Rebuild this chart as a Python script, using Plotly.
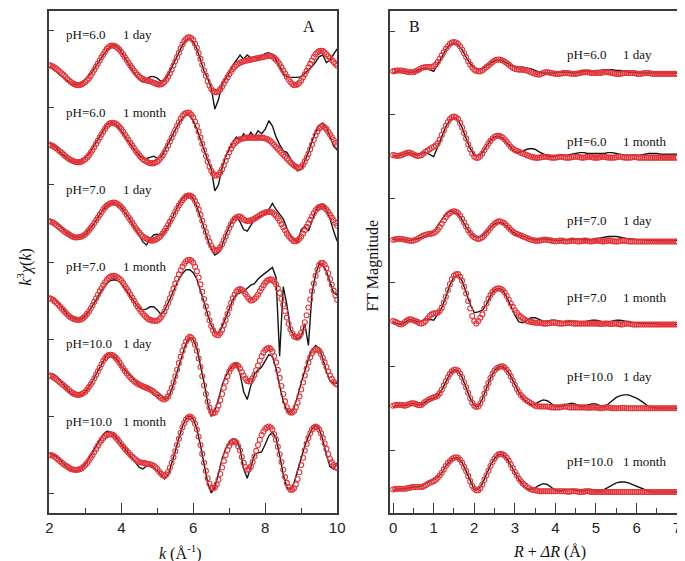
import plotly.graph_objects as go

W, H = 685, 561

# ---------------- data ----------------
k = [round(2 + 0.1 * i, 1) for i in range(81)]          # data lines
k_fit = [round(2 + 0.05 * i, 2) for i in range(161)]    # fit circles
R = [round(0.1 * i, 1) for i in range(71)]
R_fit = [round(0.05 * i, 2) for i in range(141)]

labels = [("pH=6.0", "1 day"), ("pH=6.0", "1 month"), ("pH=7.0", "1 day"),
          ("pH=7.0", "1 month"), ("pH=10.0", "1 day"), ("pH=10.0", "1 month")]

# Panel A fits: k^3 chi(k), offsets relative to each spectrum's baseline (every 0.05)
chi_fit_6_day = [0.05, 0.04, 0.03, 0.015, 0.00, -0.02, -0.04, -0.06, -0.08, -0.105,
                 -0.13, -0.15, -0.17, -0.187, -0.20, -0.207, -0.21, -0.207, -0.20, -0.187,
                 -0.17, -0.147, -0.12, -0.087, -0.05, -0.01, 0.03, 0.07, 0.11, 0.15,
                 0.19, 0.227, 0.26, 0.283, 0.30, 0.303, 0.30, 0.288, 0.27, 0.247,
                 0.22, 0.187, 0.15, 0.115, 0.08, 0.045, 0.01, -0.022, -0.05, -0.077,
                 -0.10, -0.117, -0.13, -0.14, -0.15, -0.155, -0.16, -0.17, -0.18, -0.19,
                 -0.20, -0.203, -0.20, -0.19, -0.17, -0.137, -0.10, -0.057, -0.01, 0.045,
                 0.10, 0.155, 0.21, 0.267, 0.32, 0.36, 0.39, 0.405, 0.41, 0.397,
                 0.37, 0.325, 0.27, 0.203, 0.13, 0.055, -0.02, -0.09, -0.16, -0.215,
                 -0.26, -0.285, -0.30, -0.30, -0.29, -0.265, -0.23, -0.19, -0.15, -0.11,
                 -0.07, -0.033, 0.00, 0.027, 0.05, 0.066, 0.08, 0.09, 0.10, 0.105,
                 0.11, 0.115, 0.12, 0.125, 0.13, 0.135, 0.14, 0.145, 0.15, 0.155,
                 0.16, 0.166, 0.17, 0.168, 0.16, 0.143, 0.12, 0.092, 0.06, 0.02,
                 -0.02, -0.06, -0.10, -0.137, -0.17, -0.195, -0.21, -0.208, -0.20, -0.18,
                 -0.15, -0.112, -0.07, -0.025, 0.02, 0.065, 0.11, 0.153, 0.19, 0.215,
                 0.23, 0.235, 0.23, 0.213, 0.19, 0.165, 0.14, 0.115, 0.09, 0.065,
                 0.04]
chi_fit_6_month = [0.02, 0.01, 0.00, -0.015, -0.03, -0.05, -0.07, -0.09, -0.11, -0.13,
                   -0.15, -0.166, -0.18, -0.192, -0.20, -0.207, -0.21, -0.207, -0.20, -0.187,
                   -0.17, -0.147, -0.12, -0.087, -0.05, -0.01, 0.03, 0.07, 0.11, 0.15,
                   0.19, 0.227, 0.26, 0.283, 0.30, 0.303, 0.30, 0.288, 0.27, 0.247,
                   0.22, 0.187, 0.15, 0.115, 0.08, 0.045, 0.01, -0.025, -0.06, -0.09,
                   -0.12, -0.147, -0.17, -0.187, -0.20, -0.212, -0.22, -0.223, -0.22, -0.213,
                   -0.20, -0.178, -0.15, -0.117, -0.08, -0.037, 0.01, 0.06, 0.11, 0.16,
                   0.21, 0.26, 0.31, 0.355, 0.39, 0.415, 0.43, 0.435, 0.43, 0.405,
                   0.37, 0.32, 0.26, 0.188, 0.11, 0.03, -0.05, -0.127, -0.20, -0.265,
                   -0.32, -0.355, -0.38, -0.38, -0.37, -0.34, -0.30, -0.248, -0.19, -0.133,
                   -0.08, -0.032, 0.01, 0.038, 0.06, 0.077, 0.09, 0.096, 0.10, 0.106,
                   0.11, 0.11, 0.11, 0.11, 0.11, 0.11, 0.11, 0.11, 0.11, 0.107,
                   0.10, 0.092, 0.08, 0.062, 0.04, 0.015, -0.01, -0.035, -0.06, -0.085,
                   -0.11, -0.135, -0.16, -0.185, -0.21, -0.232, -0.25, -0.267, -0.28, -0.28,
                   -0.27, -0.24, -0.20, -0.152, -0.10, -0.04, 0.02, 0.082, 0.14, 0.19,
                   0.23, 0.252, 0.26, 0.245, 0.22, 0.187, 0.15, 0.115, 0.08, 0.045,
                   0.01]
chi_fit_7_day = [0.03, 0.02, 0.01, -0.005, -0.02, -0.04, -0.06, -0.08, -0.10, -0.115,
                 -0.13, -0.145, -0.16, -0.172, -0.18, -0.183, -0.18, -0.177, -0.17, -0.157,
                 -0.14, -0.117, -0.09, -0.062, -0.03, 0.005, 0.04, 0.075, 0.11, 0.145,
                 0.18, 0.207, 0.23, 0.248, 0.26, 0.268, 0.27, 0.263, 0.25, 0.232,
                 0.21, 0.182, 0.15, 0.115, 0.08, 0.045, 0.01, -0.025, -0.06, -0.09,
                 -0.12, -0.147, -0.17, -0.187, -0.20, -0.212, -0.22, -0.223, -0.22, -0.212,
                 -0.20, -0.182, -0.16, -0.132, -0.10, -0.062, -0.02, 0.02, 0.06, 0.105,
                 0.15, 0.192, 0.23, 0.268, 0.30, 0.328, 0.35, 0.36, 0.36, 0.35,
                 0.33, 0.29, 0.24, 0.178, 0.11, 0.035, -0.04, -0.112, -0.18, -0.24,
                 -0.29, -0.325, -0.35, -0.35, -0.34, -0.31, -0.27, -0.222, -0.17, -0.115,
                 -0.06, -0.013, 0.03, 0.06, 0.08, 0.09, 0.09, 0.072, 0.05, 0.037,
                 0.03, 0.032, 0.04, 0.05, 0.06, 0.075, 0.09, 0.105, 0.12, 0.132,
                 0.14, 0.147, 0.15, 0.148, 0.14, 0.122, 0.10, 0.067, 0.03, -0.01,
                 -0.05, -0.09, -0.13, -0.162, -0.19, -0.213, -0.23, -0.23, -0.22, -0.198,
                 -0.17, -0.132, -0.09, -0.045, 0.00, 0.045, 0.09, 0.132, 0.17, 0.195,
                 0.21, 0.218, 0.22, 0.203, 0.18, 0.147, 0.11, 0.075, 0.04, 0.005,
                 -0.03]
chi_fit_7_month = [0.03, 0.022, 0.01, -0.01, -0.03, -0.055, -0.08, -0.105, -0.13, -0.155,
                   -0.18, -0.202, -0.22, -0.233, -0.24, -0.248, -0.25, -0.247, -0.24, -0.223,
                   -0.20, -0.172, -0.14, -0.102, -0.06, -0.015, 0.03, 0.075, 0.12, 0.16,
                   0.20, 0.237, 0.27, 0.293, 0.31, 0.318, 0.32, 0.313, 0.30, 0.283,
                   0.26, 0.227, 0.19, 0.155, 0.12, 0.08, 0.04, 0.00, -0.04, -0.075,
                   -0.11, -0.142, -0.17, -0.197, -0.22, -0.237, -0.25, -0.257, -0.26, -0.262,
                   -0.26, -0.245, -0.22, -0.183, -0.14, -0.087, -0.03, 0.03, 0.09, 0.155,
                   0.22, 0.282, 0.34, 0.393, 0.44, 0.478, 0.51, 0.525, 0.53, 0.515,
                   0.49, 0.44, 0.38, 0.30, 0.21, 0.115, 0.02, -0.075, -0.17, -0.255,
                   -0.33, -0.385, -0.43, -0.445, -0.45, -0.42, -0.38, -0.318, -0.25, -0.175,
                   -0.10, -0.032, 0.03, 0.08, 0.12, 0.14, 0.15, 0.14, 0.12, 0.085,
                   0.05, 0.02, 0.00, 0.005, 0.02, 0.047, 0.08, 0.12, 0.16, 0.197,
                   0.23, 0.255, 0.27, 0.275, 0.27, 0.245, 0.21, 0.158, 0.10, 0.025,
                   -0.05, -0.135, -0.22, -0.30, -0.37, -0.422, -0.46, -0.475, -0.48, -0.46,
                   -0.42, -0.355, -0.28, -0.19, -0.09, 0.015, 0.12, 0.222, 0.32, 0.40,
                   0.46, 0.485, 0.49, 0.465, 0.42, 0.355, 0.28, 0.205, 0.13, 0.07,
                   0.01]
chi_fit_10_day = [0.03, 0.022, 0.01, -0.005, -0.02, -0.04, -0.06, -0.08, -0.10, -0.12,
                  -0.14, -0.16, -0.18, -0.198, -0.21, -0.218, -0.22, -0.218, -0.21, -0.197,
                  -0.18, -0.152, -0.12, -0.087, -0.05, -0.005, 0.04, 0.085, 0.13, 0.177,
                  0.22, 0.255, 0.28, 0.295, 0.30, 0.295, 0.28, 0.258, 0.23, 0.197,
                  0.16, 0.125, 0.09, 0.06, 0.03, 0.005, -0.02, -0.04, -0.06, -0.075,
                  -0.09, -0.10, -0.11, -0.12, -0.13, -0.14, -0.15, -0.165, -0.18, -0.20,
                  -0.22, -0.24, -0.26, -0.275, -0.28, -0.267, -0.24, -0.19, -0.13, -0.057,
                  0.02, 0.105, 0.19, 0.272, 0.35, 0.415, 0.47, 0.51, 0.53, 0.52,
                  0.49, 0.43, 0.35, 0.25, 0.14, 0.02, -0.10, -0.21, -0.31, -0.385,
                  -0.44, -0.457, -0.45, -0.413, -0.36, -0.29, -0.21, -0.128, -0.05, 0.02,
                  0.08, 0.12, 0.15, 0.166, 0.17, 0.152, 0.12, 0.075, 0.03, -0.01,
                  -0.04, -0.047, -0.04, -0.005, 0.04, 0.098, 0.16, 0.222, 0.28, 0.327,
                  0.36, 0.38, 0.39, 0.372, 0.34, 0.28, 0.20, 0.103, 0.00, -0.105,
                  -0.21, -0.305, -0.38, -0.428, -0.45, -0.45, -0.43, -0.382, -0.32, -0.24,
                  -0.15, -0.06, 0.03, 0.118, 0.20, 0.267, 0.32, 0.352, 0.37, 0.368,
                  0.35, 0.31, 0.26, 0.20, 0.14, 0.083, 0.03, -0.013, -0.05, -0.073,
                  -0.09]
chi_fit_10_month = [0.00, 0.00, -0.01, -0.022, -0.04, -0.06, -0.08, -0.10, -0.12, -0.135,
                    -0.15, -0.166, -0.18, -0.187, -0.19, -0.192, -0.19, -0.182, -0.17, -0.152,
                    -0.13, -0.102, -0.07, -0.036, 0.00, 0.04, 0.08, 0.12, 0.16, 0.193,
                    0.22, 0.243, 0.26, 0.268, 0.27, 0.265, 0.25, 0.228, 0.20, 0.17,
                    0.14, 0.11, 0.08, 0.055, 0.03, 0.005, -0.02, -0.04, -0.06, -0.076,
                    -0.09, -0.096, -0.10, -0.105, -0.11, -0.115, -0.12, -0.128, -0.14, -0.157,
                    -0.18, -0.212, -0.24, -0.262, -0.27, -0.253, -0.22, -0.165, -0.10, -0.027,
                    0.05, 0.13, 0.21, 0.29, 0.36, 0.415, 0.46, 0.487, 0.50, 0.49,
                    0.46, 0.405, 0.33, 0.237, 0.13, 0.015, -0.10, -0.205, -0.30, -0.372,
                    -0.42, -0.43, -0.42, -0.38, -0.32, -0.245, -0.16, -0.077, 0.00, 0.065,
                    0.12, 0.158, 0.18, 0.177, 0.16, 0.115, 0.06, -0.025, -0.10, -0.155,
                    -0.19, -0.182, -0.15, -0.09, -0.02, 0.055, 0.13, 0.198, 0.26, 0.305,
                    0.34, 0.36, 0.37, 0.358, 0.33, 0.27, 0.20, 0.107, 0.01, -0.09,
                    -0.19, -0.285, -0.36, -0.415, -0.45, -0.45, -0.43, -0.38, -0.31, -0.222,
                    -0.13, -0.035, 0.06, 0.145, 0.22, 0.283, 0.33, 0.358, 0.37, 0.357,
                    0.33, 0.283, 0.22, 0.15, 0.08, 0.013, -0.05, -0.095, -0.13, -0.153,
                    -0.17]

# Panel A data (every 0.1)
chi_dat_6_day = [0.03, 0.00, -0.04, -0.08, -0.12, -0.16, -0.19, -0.20, -0.20, -0.18,
                 -0.14, -0.09, -0.03, 0.04, 0.12, 0.18, 0.24, 0.30, 0.31, 0.28,
                 0.22, 0.14, 0.06, -0.01, -0.08, -0.14, -0.17, -0.13, -0.10, -0.10,
                 -0.12, -0.16, -0.15, -0.08, 0.02, 0.12, 0.22, 0.31, 0.37, 0.39,
                 0.35, 0.26, 0.12, -0.03, -0.12, -0.25, -0.52, -0.40, -0.20, -0.12,
                 -0.05, 0.05, 0.12, 0.18, 0.13, 0.18, 0.14, 0.15, 0.13, 0.16,
                 0.20, 0.21, 0.18, 0.12, 0.02, -0.06, -0.10, -0.11, -0.11, -0.11,
                 -0.10, -0.06, -0.02, 0.03, 0.09, 0.16, 0.18, 0.08, 0.12, 0.19,
                 0.26]
chi_dat_6_month = [0.04, 0.02, -0.02, -0.08, -0.12, -0.16, -0.19, -0.21, -0.21, -0.19,
                   -0.15, -0.10, -0.03, 0.05, 0.13, 0.21, 0.28, 0.31, 0.30, 0.26,
                   0.20, 0.13, 0.06, -0.01, -0.07, -0.12, -0.16, -0.16, -0.14, -0.13,
                   -0.16, -0.14, -0.06, 0.03, 0.13, 0.22, 0.30, 0.36, 0.40, 0.40,
                   0.33, 0.22, 0.08, -0.06, -0.18, -0.30, -0.58, -0.50, -0.28, -0.14,
                   -0.03, 0.06, 0.12, 0.08, 0.16, 0.10, 0.18, 0.12, 0.20, 0.16,
                   0.22, 0.33, 0.26, 0.12, 0.02, -0.06, -0.08, -0.16, -0.26, -0.32,
                   -0.30, -0.20, -0.08, 0.06, 0.18, 0.27, 0.30, 0.24, 0.12, 0.00,
                   -0.05]
chi_dat_7_day = [0.05, 0.04, 0.01, -0.04, -0.09, -0.13, -0.16, -0.18, -0.18, -0.17,
                 -0.14, -0.09, -0.03, 0.04, 0.11, 0.18, 0.23, 0.26, 0.27, 0.25,
                 0.21, 0.15, 0.08, 0.00, -0.08, -0.16, -0.24, -0.28, -0.20, -0.15,
                 -0.14, -0.16, -0.12, -0.04, 0.06, 0.16, 0.25, 0.32, 0.36, 0.37,
                 0.32, 0.22, 0.08, -0.08, -0.22, -0.34, -0.41, -0.38, -0.28, -0.16,
                 -0.04, 0.05, 0.09, 0.02, -0.08, -0.10, -0.02, 0.05, 0.08, 0.10,
                 0.12, 0.18, 0.26, 0.18, 0.12, 0.06, -0.06, -0.16, -0.22, -0.24,
                 -0.08, -0.04, -0.10, 0.04, 0.16, 0.24, 0.25, 0.18, 0.06, -0.10,
                 -0.23]
chi_dat_7_month = [0.06, 0.04, 0.00, -0.06, -0.12, -0.18, -0.22, -0.24, -0.25, -0.24,
                   -0.20, -0.14, -0.07, 0.01, 0.09, 0.16, 0.22, 0.26, 0.27, 0.26,
                   0.22, 0.16, 0.09, 0.02, -0.04, -0.09, -0.12, -0.11, -0.08, -0.08,
                   -0.12, -0.18, -0.13, -0.03, 0.08, 0.18, 0.28, 0.35, 0.40, 0.40,
                   0.36, 0.28, 0.14, -0.02, -0.18, -0.32, -0.41, -0.42, -0.34, -0.22,
                   -0.10, 0.01, 0.08, 0.10, 0.12, 0.16, 0.20, 0.22, 0.28, 0.32,
                   0.36, 0.40, 0.43, 0.30, -0.72, 0.18, -0.05, -0.38, -0.45, -0.50,
                   -0.46, -0.30, -0.58, 0.10, 0.34, 0.48, 0.46, 0.38, 0.24, 0.10,
                   0.07]
chi_dat_10_day = [0.06, 0.05, 0.02, -0.04, -0.10, -0.15, -0.20, -0.23, -0.24, -0.22,
                  -0.18, -0.12, -0.04, 0.05, 0.14, 0.23, 0.30, 0.31, 0.28, 0.22,
                  0.15, 0.10, 0.05, -0.01, -0.06, -0.10, -0.14, -0.13, -0.15, -0.22,
                  -0.23, -0.22, -0.28, -0.26, -0.15, 0.00, 0.17, 0.33, 0.45, 0.52,
                  0.50, 0.38, 0.18, -0.06, -0.32, -0.50, -0.42, -0.28, -0.10, 0.02,
                  0.10, 0.16, 0.19, 0.05, -0.18, -0.28, -0.10, 0.05, 0.10, 0.14,
                  0.22, 0.30, 0.28, 0.12, -0.10, -0.30, -0.42, -0.46, -0.38, -0.24,
                  -0.06, 0.10, 0.24, 0.36, 0.42, 0.38, 0.25, 0.08, -0.04, -0.07,
                  -0.07]
chi_dat_10_month = [0.02, 0.01, -0.02, -0.07, -0.12, -0.16, -0.19, -0.21, -0.20, -0.17,
                    -0.12, -0.05, 0.03, 0.12, 0.20, 0.27, 0.31, 0.30, 0.26, 0.20,
                    0.14, 0.08, 0.03, -0.03, -0.10, -0.16, -0.18, -0.14, -0.13, -0.16,
                    -0.20, -0.25, -0.31, -0.26, -0.12, 0.05, 0.22, 0.37, 0.47, 0.51,
                    0.47, 0.34, 0.13, -0.12, -0.36, -0.49, -0.42, -0.24, -0.05, 0.08,
                    0.16, 0.21, 0.20, 0.08, -0.18, -0.30, -0.16, 0.00, 0.03, 0.04,
                    0.14, 0.25, 0.30, 0.22, 0.00, -0.25, -0.42, -0.45, -0.36, -0.20,
                    -0.02, 0.12, 0.24, 0.34, 0.39, 0.34, 0.20, 0.00, -0.15, -0.18,
                    -0.10]

# Panel B: FT magnitude fits (read every 0.05 A), offsets relative to baseline
ft_fit_6_day = [0.02, 0.025, 0.03, 0.03, 0.03, 0.025, 0.02, 0.015, 0.01, 0.01,
                0.01, 0.02, 0.03, 0.045, 0.06, 0.065, 0.07, 0.07, 0.07, 0.075,
                0.08, 0.10, 0.13, 0.17, 0.21, 0.25, 0.29, 0.32, 0.35, 0.365,
                0.37, 0.365, 0.35, 0.32, 0.28, 0.235, 0.19, 0.14, 0.10, 0.065,
                0.04, 0.025, 0.02, 0.02, 0.03, 0.05, 0.07, 0.09, 0.11, 0.13,
                0.15, 0.158, 0.16, 0.158, 0.15, 0.135, 0.12, 0.10, 0.08, 0.06,
                0.05, 0.045, 0.04, 0.04, 0.04, 0.035, 0.03, 0.02, 0.01, 0.00,
                -0.01, -0.015, -0.02, -0.01, 0.00, 0.01, 0.01, 0.005, 0.00, -0.005,
                -0.01, -0.01, -0.01, -0.005, 0.00, 0.00, 0.00, -0.005, -0.01, -0.01,
                -0.01, -0.005, 0.00, 0.005, 0.01, 0.01, 0.01, 0.005, 0.00, 0.00,
                0.00, 0.00, 0.00, 0.005, 0.01, 0.01, 0.01, 0.005, 0.00, -0.005,
                -0.01, -0.01, -0.01, -0.005, 0.00, 0.00, 0.00, 0.00, 0.00, 0.00,
                -0.01, -0.01, -0.01, -0.005, 0.00, 0.00, 0.00, -0.005, -0.01, -0.01,
                -0.01, -0.01, -0.01, -0.01, -0.01, -0.01, -0.01, -0.01, -0.01, -0.01,
                -0.01]
ft_fit_6_month = [0.02, 0.015, 0.01, 0.012, 0.02, 0.03, 0.04, 0.048, 0.05, 0.042,
                  0.03, 0.018, 0.01, 0.012, 0.02, 0.04, 0.06, 0.075, 0.09, 0.105,
                  0.12, 0.135, 0.16, 0.205, 0.26, 0.315, 0.37, 0.415, 0.45, 0.472,
                  0.48, 0.472, 0.45, 0.405, 0.35, 0.285, 0.22, 0.15, 0.09, 0.04,
                  0.00, -0.012, -0.01, 0.01, 0.04, 0.08, 0.12, 0.158, 0.19, 0.218,
                  0.24, 0.248, 0.25, 0.244, 0.23, 0.207, 0.18, 0.15, 0.12, 0.098,
                  0.08, 0.07, 0.06, 0.05, 0.04, 0.03, 0.02, 0.01, 0.00, -0.006,
                  -0.01, -0.012, -0.01, -0.005, 0.00, 0.00, 0.00, -0.005, -0.01, -0.01,
                  -0.01, -0.005, 0.00, 0.00, -0.005, -0.01, -0.01, -0.01, -0.005, 0.00,
                  0.00, 0.00, -0.005, -0.01, -0.01, -0.005, 0.00, 0.00, -0.005, -0.01,
                  -0.01, -0.01, -0.005, 0.00, 0.00, -0.005, -0.01, -0.01, -0.01, -0.01,
                  -0.005, 0.00, 0.00, -0.005, -0.01, -0.01, -0.01, -0.01, -0.005, 0.00,
                  -0.005, -0.01, -0.01, -0.01, -0.01, -0.01, -0.01, -0.01, -0.01, -0.01,
                  -0.01, -0.01, -0.01, -0.01, -0.01, -0.01, -0.01, -0.01, -0.01, -0.01,
                  -0.01]
ft_fit_7_day = [0.01, 0.015, 0.02, 0.022, 0.02, 0.015, 0.01, 0.004, 0.00, -0.002,
                0.00, 0.008, 0.02, 0.035, 0.05, 0.062, 0.07, 0.076, 0.08, 0.084,
                0.09, 0.105, 0.13, 0.163, 0.20, 0.24, 0.28, 0.31, 0.33, 0.345,
                0.35, 0.345, 0.33, 0.30, 0.26, 0.215, 0.17, 0.125, 0.09, 0.06,
                0.04, 0.027, 0.02, 0.025, 0.04, 0.063, 0.09, 0.12, 0.15, 0.178,
                0.20, 0.218, 0.23, 0.228, 0.22, 0.203, 0.18, 0.155, 0.13, 0.108,
                0.09, 0.08, 0.07, 0.06, 0.05, 0.04, 0.03, 0.02, 0.01, 0.004,
                0.00, -0.002, 0.00, 0.005, 0.01, 0.012, 0.01, 0.005, 0.00, -0.005,
                -0.01, -0.005, 0.00, 0.00, -0.005, -0.01, -0.01, -0.005, 0.00, 0.00,
                -0.005, -0.01, -0.01, -0.005, 0.00, 0.00, -0.005, -0.01, -0.01, -0.005,
                0.00, 0.00, -0.005, -0.01, -0.01, -0.005, 0.00, 0.00, -0.005, -0.01,
                -0.01, -0.01, -0.005, 0.00, 0.00, -0.005, -0.01, -0.01, -0.01, -0.01,
                -0.01, -0.01, -0.01, -0.01, -0.01, -0.01, -0.01, -0.01, -0.01, -0.01,
                -0.01, -0.01, -0.01, -0.01, -0.01, -0.01, -0.01, -0.01, -0.01, -0.01,
                -0.01]
ft_fit_7_month = [0.04, 0.03, 0.02, 0.006, 0.00, 0.012, 0.03, 0.048, 0.06, 0.058,
                  0.05, 0.04, 0.03, 0.015, 0.01, 0.02, 0.04, 0.07, 0.10, 0.12,
                  0.13, 0.135, 0.14, 0.16, 0.20, 0.26, 0.33, 0.41, 0.48, 0.54,
                  0.58, 0.597, 0.60, 0.57, 0.52, 0.45, 0.37, 0.28, 0.19, 0.10,
                  0.04, 0.01, 0.04, 0.08, 0.12, 0.19, 0.25, 0.305, 0.35, 0.385,
                  0.41, 0.425, 0.43, 0.425, 0.41, 0.38, 0.34, 0.295, 0.25, 0.21,
                  0.17, 0.14, 0.11, 0.09, 0.07, 0.055, 0.04, 0.035, 0.03, 0.025,
                  0.02, 0.02, 0.02, 0.015, 0.01, 0.01, 0.01, 0.015, 0.02, 0.02,
                  0.02, 0.015, 0.01, 0.01, 0.01, 0.015, 0.02, 0.02, 0.015, 0.01,
                  0.01, 0.01, 0.01, 0.01, 0.01, 0.01, 0.01, 0.01, 0.01, 0.01,
                  0.01, 0.01, 0.005, 0.005, 0.01, 0.01, 0.01, 0.005, 0.005, 0.01,
                  0.01, 0.005, 0.00, 0.00, 0.005, 0.01, 0.01, 0.005, 0.00, 0.00,
                  0.00, 0.00, 0.00, 0.00, 0.00, 0.00, 0.00, 0.00, 0.00, 0.00,
                  0.00, 0.00, 0.00, 0.00, 0.00, 0.00, 0.00, 0.00, 0.00, 0.00,
                  0.00]
ft_fit_10_day = [0.03, 0.035, 0.04, 0.042, 0.04, 0.034, 0.03, 0.04, 0.05, 0.058,
                 0.06, 0.052, 0.04, 0.036, 0.04, 0.06, 0.08, 0.095, 0.11, 0.12,
                 0.13, 0.138, 0.15, 0.18, 0.22, 0.27, 0.32, 0.37, 0.41, 0.44,
                 0.46, 0.462, 0.45, 0.415, 0.37, 0.31, 0.25, 0.185, 0.12, 0.065,
                 0.03, 0.015, 0.02, 0.06, 0.11, 0.175, 0.24, 0.30, 0.36, 0.41,
                 0.45, 0.475, 0.49, 0.498, 0.50, 0.485, 0.46, 0.425, 0.38, 0.33,
                 0.28, 0.23, 0.19, 0.158, 0.13, 0.108, 0.09, 0.075, 0.06, 0.045,
                 0.03, 0.024, 0.02, 0.02, 0.02, 0.02, 0.02, 0.015, 0.01, 0.01,
                 0.01, 0.01, 0.01, 0.015, 0.02, 0.02, 0.015, 0.01, 0.01, 0.01,
                 0.01, 0.01, 0.01, 0.01, 0.01, 0.01, 0.005, 0.005, 0.01, 0.01,
                 0.01, 0.005, 0.00, 0.00, 0.005, 0.01, 0.01, 0.005, 0.00, 0.00,
                 0.00, 0.00, 0.00, 0.005, 0.005, 0.00, 0.00, 0.00, 0.00, 0.00,
                 0.00, 0.00, 0.00, 0.00, 0.00, 0.00, 0.00, 0.00, 0.00, 0.00,
                 0.00, 0.00, 0.00, 0.00, 0.00, 0.00, 0.00, 0.00, 0.00, 0.00,
                 0.00]
ft_fit_10_month = [0.03, 0.035, 0.04, 0.04, 0.04, 0.04, 0.04, 0.045, 0.05, 0.056,
                   0.06, 0.06, 0.06, 0.06, 0.06, 0.068, 0.08, 0.095, 0.11, 0.12,
                   0.13, 0.148, 0.17, 0.197, 0.23, 0.27, 0.31, 0.345, 0.37, 0.395,
                   0.41, 0.415, 0.41, 0.385, 0.35, 0.30, 0.25, 0.19, 0.13, 0.075,
                   0.04, 0.02, 0.02, 0.045, 0.09, 0.145, 0.20, 0.255, 0.31, 0.36,
                   0.40, 0.43, 0.45, 0.455, 0.45, 0.435, 0.41, 0.375, 0.33, 0.285,
                   0.24, 0.20, 0.16, 0.128, 0.10, 0.08, 0.06, 0.045, 0.03, 0.024,
                   0.02, 0.015, 0.01, 0.01, 0.01, 0.01, 0.01, 0.01, 0.01, 0.01,
                   0.01, 0.01, 0.01, 0.01, 0.01, 0.01, 0.005, 0.005, 0.01, 0.01,
                   0.01, 0.005, 0.00, 0.00, 0.005, 0.01, 0.01, 0.005, 0.00, 0.00,
                   0.00, 0.00, 0.00, 0.00, 0.00, 0.00, 0.00, 0.00, 0.00, 0.00,
                   0.00, 0.00, 0.00, 0.00, 0.00, 0.00, 0.00, 0.00, 0.00, 0.00,
                   0.00, 0.00, 0.00, 0.00, 0.00, 0.00, 0.00, 0.00, 0.00, 0.00,
                   0.00, 0.00, 0.00, 0.00, 0.00, 0.00, 0.00, 0.00, 0.00, 0.00,
                   0.00]

# Panel B: FT magnitude data (read every 0.1 A)
ft_dat_6_day = [0.00, 0.02, 0.03, 0.02, 0.01, 0.01, 0.03, 0.05, 0.06, 0.04,
                0.02, 0.10, 0.20, 0.28, 0.34, 0.36, 0.34, 0.28, 0.19, 0.11,
                0.06, 0.04, 0.05, 0.08, 0.12, 0.15, 0.16, 0.15, 0.12, 0.09,
                0.08, 0.07, 0.07, 0.06, 0.05, 0.03, 0.01, 0.00, 0.00, 0.00,
                0.00, 0.01, 0.01, 0.01, 0.00, 0.00, 0.01, 0.02, 0.02, 0.02,
                0.03, 0.03, 0.04, 0.04, 0.04, 0.03, 0.03, 0.02, 0.01, 0.01,
                0.00, 0.00, 0.00, 0.00, 0.00, 0.00, 0.00, 0.00, 0.00, 0.00,
                0.00]
ft_dat_6_month = [0.01, 0.01, 0.02, 0.04, 0.05, 0.03, 0.02, 0.04, 0.05, 0.03,
                  0.00, 0.12, 0.25, 0.36, 0.44, 0.47, 0.44, 0.35, 0.22, 0.10,
                  0.02, 0.01, 0.05, 0.13, 0.20, 0.24, 0.25, 0.22, 0.17, 0.11,
                  0.06, 0.05, 0.07, 0.09, 0.10, 0.09, 0.06, 0.03, 0.01, 0.00,
                  0.01, 0.02, 0.02, 0.02, 0.03, 0.04, 0.05, 0.05, 0.04, 0.04,
                  0.04, 0.04, 0.04, 0.05, 0.05, 0.04, 0.03, 0.02, 0.02, 0.02,
                  0.02, 0.02, 0.03, 0.04, 0.04, 0.04, 0.03, 0.03, 0.03, 0.03,
                  0.03]
ft_dat_7_day = [0.02, 0.01, 0.02, 0.01, 0.00, 0.01, 0.02, 0.04, 0.06, 0.08,
                0.11, 0.18, 0.26, 0.32, 0.35, 0.35, 0.32, 0.25, 0.16, 0.09,
                0.05, 0.04, 0.06, 0.10, 0.16, 0.20, 0.22, 0.21, 0.17, 0.12,
                0.08, 0.06, 0.05, 0.03, 0.02, 0.01, 0.01, 0.02, 0.02, 0.01,
                0.00, 0.00, 0.01, 0.01, 0.01, 0.02, 0.02, 0.01, 0.01, 0.01,
                0.02, 0.03, 0.04, 0.05, 0.05, 0.05, 0.04, 0.03, 0.02, 0.02,
                0.01, 0.01, 0.01, 0.00, 0.00, 0.00, 0.00, 0.00, 0.00, 0.00,
                0.00]
ft_dat_7_month = [0.03, 0.01, 0.00, 0.03, 0.06, 0.05, 0.03, 0.04, 0.07, 0.06,
                  0.05, 0.12, 0.20, 0.33, 0.47, 0.57, 0.59, 0.52, 0.38, 0.24,
                  0.14, 0.15, 0.17, 0.24, 0.34, 0.41, 0.43, 0.41, 0.33, 0.22,
                  0.11, 0.03, 0.02, 0.05, 0.08, 0.08, 0.06, 0.04, 0.04, 0.05,
                  0.05, 0.04, 0.03, 0.03, 0.04, 0.04, 0.03, 0.03, 0.04, 0.05,
                  0.05, 0.04, 0.03, 0.03, 0.04, 0.05, 0.05, 0.04, 0.03, 0.02,
                  0.02, 0.01, 0.01, 0.01, 0.01, 0.01, 0.00, 0.00, 0.00, 0.00,
                  0.00]
ft_dat_10_day = [0.02, 0.03, 0.04, 0.03, 0.05, 0.06, 0.04, 0.04, 0.08, 0.11,
                 0.12, 0.15, 0.22, 0.32, 0.41, 0.46, 0.45, 0.37, 0.25, 0.12,
                 0.03, 0.02, 0.11, 0.24, 0.36, 0.45, 0.49, 0.50, 0.46, 0.38,
                 0.28, 0.19, 0.12, 0.07, 0.04, 0.05, 0.08, 0.10, 0.09, 0.05,
                 0.02, 0.02, 0.03, 0.05, 0.06, 0.05, 0.02, 0.02, 0.04, 0.05,
                 0.05, 0.03, 0.02, 0.05, 0.09, 0.13, 0.15, 0.16, 0.16, 0.14,
                 0.12, 0.09, 0.05, 0.02, 0.01, 0.00, 0.00, 0.00, 0.00, 0.00,
                 0.00]
ft_dat_10_month = [0.02, 0.03, 0.04, 0.04, 0.05, 0.06, 0.06, 0.07, 0.10, 0.13,
                   0.15, 0.18, 0.23, 0.31, 0.37, 0.41, 0.41, 0.35, 0.25, 0.13,
                   0.03, 0.03, 0.10, 0.21, 0.32, 0.40, 0.45, 0.45, 0.40, 0.32,
                   0.23, 0.15, 0.08, 0.04, 0.03, 0.05, 0.08, 0.10, 0.09, 0.05,
                   0.02, 0.01, 0.02, 0.03, 0.03, 0.02, 0.01, 0.02, 0.03, 0.03,
                   0.02, 0.01, 0.03, 0.06, 0.09, 0.11, 0.12, 0.12, 0.11, 0.09,
                   0.07, 0.05, 0.03, 0.01, 0.00, 0.00, 0.00, 0.00, 0.00, 0.00,
                   0.00]

chi_fits = [chi_fit_6_day, chi_fit_6_month, chi_fit_7_day, chi_fit_7_month, chi_fit_10_day, chi_fit_10_month]
chi_dats = [chi_dat_6_day, chi_dat_6_month, chi_dat_7_day, chi_dat_7_month, chi_dat_10_day, chi_dat_10_month]
ft_fits = [ft_fit_6_day, ft_fit_6_month, ft_fit_7_day, ft_fit_7_month, ft_fit_10_day, ft_fit_10_month]
ft_dats = [ft_dat_6_day, ft_dat_6_month, ft_dat_7_day, ft_dat_7_month, ft_dat_10_day, ft_dat_10_month]

for s in chi_dats:
    assert len(s) == len(k), len(s)
for s in chi_fits:
    assert len(s) == len(k_fit), len(s)
for s in ft_dats:
    assert len(s) == len(R), len(s)
for s in ft_fits:
    assert len(s) == len(R_fit), len(s)

A_base = [5.5, 4.5, 3.5, 2.5, 1.5, 0.5]
B_base = [5, 4, 3, 2, 1, 0]

# ---------------- styling ----------------
SERIF = "Liberation Serif"
SANS = "Liberation Sans"
RED = "#e2353b"
BLACK = "#151515"
AX = "#3a3a3a"


def px(x):
    return x / W


def py(y):
    return 1 - y / H


fig = go.Figure()

for i in range(6):
    b = A_base[i]
    fig.add_trace(go.Scatter(x=k, y=[b + v for v in chi_dats[i]], mode="lines",
                             line=dict(color=BLACK, width=1.4), xaxis="x", yaxis="y",
                             hoverinfo="skip"))
    fig.add_trace(go.Scatter(x=k_fit, y=[b + v for v in chi_fits[i]], mode="markers",
                             marker=dict(symbol="circle-open", size=5, color=RED,
                                         line=dict(width=1.1, color=RED)),
                             xaxis="x", yaxis="y"))
for i in range(6):
    b = B_base[i]
    fig.add_trace(go.Scatter(x=R, y=[b + v for v in ft_dats[i]], mode="lines",
                             line=dict(color=BLACK, width=1.4), xaxis="x2", yaxis="y2",
                             hoverinfo="skip"))
    fig.add_trace(go.Scatter(x=R_fit, y=[b + v for v in ft_fits[i]], mode="markers",
                             marker=dict(symbol="circle-open", size=5, color=RED,
                                         line=dict(width=1.1, color=RED)),
                             xaxis="x2", yaxis="y2"))

ydom = [py(505), py(3)]
common_ax = dict(showline=True, linecolor=AX, linewidth=1.5, mirror=True,
                 showgrid=False, zeroline=False, ticks="inside", tickcolor=AX,
                 tickwidth=1.3)

fig.update_layout(
    width=W, height=H, margin=dict(l=0, r=0, t=0, b=0),
    plot_bgcolor="white", paper_bgcolor="white", showlegend=False,
    xaxis=dict(domain=[px(38), px(331)], range=[2, 10], tickvals=[2, 4, 6, 8, 10],
               ticklen=10, tickfont=dict(family=SANS, size=15, color="#222"),
               minor=dict(dtick=1, tick0=2, ticks="inside", ticklen=5, tickcolor=AX, tickwidth=1.3),
               anchor="y", **common_ax),
    yaxis=dict(domain=ydom, range=[-0.25, 6.25], tickvals=[0, 1, 2, 3, 4, 5, 6],
               ticklen=5, showticklabels=False, anchor="x", **common_ax),
    xaxis2=dict(domain=[px(385), px(677)], range=[-0.07, 7], tickvals=[0, 1, 2, 3, 4, 5, 6, 7],
                ticklen=10, tickfont=dict(family=SANS, size=15, color="#222"),
                minor=dict(dtick=0.5, tick0=0, ticks="inside", ticklen=5, tickcolor=AX, tickwidth=1.3),
                anchor="y2", **common_ax),
    yaxis2=dict(domain=ydom, range=[-0.25, 5.74], tickvals=[0.5, 1.5, 2.5, 3.5, 4.5, 5.5],
                ticklen=5, showticklabels=False, anchor="x2", **common_ax),
)

ann = []


def add_text(text, x, y, size=13, xanchor="left", angle=0, xref="paper", yref="paper"):
    ann.append(dict(text=text, x=x, y=y, xref=xref, yref=yref, showarrow=False,
                    xanchor=xanchor, yanchor="middle", textangle=angle,
                    font=dict(family=SERIF, size=size, color="#111")))


# panel letters
add_text("A", px(302), py(18), size=16, xanchor="center")
add_text("B", px(410), py(18), size=16, xanchor="center")

# axis titles
add_text("<i>k</i> (Å<sup>-1</sup>)", px(172), py(544), size=16, xanchor="center")
add_text("<i>R</i> + <i>ΔR</i> (Å)", px(547), py(544), size=16, xanchor="center")
add_text("<i>k</i><sup>3</sup><i>χ</i>(<i>k</i>)", px(12), py(259), size=16, xanchor="center", angle=-90)
add_text("FT Magnitude", px(367), py(258), size=16, xanchor="center", angle=-90)

# spectrum labels, panel A
for i, (ph, t) in enumerate(labels):
    add_text(ph, 2.4, A_base[i] + 0.44, xref="x", yref="y")
    add_text(t, 4.0, A_base[i] + 0.44, xref="x", yref="y")

# spectrum labels, panel B
B_label_y = [47, 133, 213, 289, 368, 453]
for i, (ph, t) in enumerate(labels):
    add_text(ph, px(563), py(B_label_y[i]))
    add_text(t, px(620), py(B_label_y[i]))

fig.update_layout(annotations=ann)

fig.write_html("out.html")
